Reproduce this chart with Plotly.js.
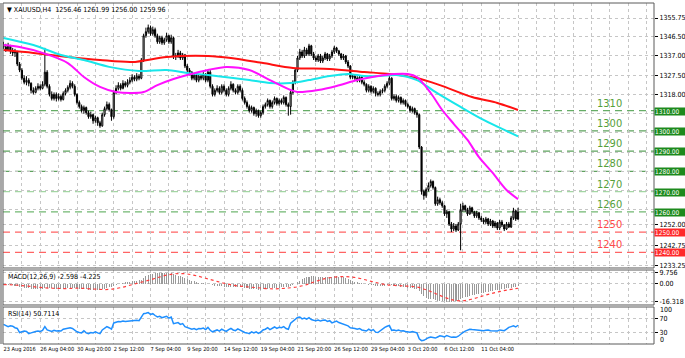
<!DOCTYPE html>
<html><head><meta charset="utf-8">
<script src="https://cdn.plot.ly/plotly-3.0.1.min.js"></script>
<style>html,body{margin:0;padding:0;background:#fff;}#chart{width:685px;height:358px;}</style>
</head><body><div id="chart"></div>
<script>
// ---------- DATA ----------
const FIRST_OPEN = 1342.5;
const CLOSE = [
1341.5,1340,1342,1339.5,1338.5,1339,1333,1330,1326,1324,
1325,1323.5,1320,1319,1321,1322,1321,1323,1329,1322,
1318,1316,1318,1316,1317,1315.5,1318.5,1320,1321.5,1323.5,
1322,1318,1314,1312,1310,1311.5,1309,1307,1308,1305,
1306.5,1304,1302.5,1308,1311,1313,1310.5,1307,1319,1321,
1322.5,1321,1323.5,1322.5,1324,1325,1326.5,1325.5,1327,1326,
1335,1347,1349,1351,1348,1350,1347,1344,1346,1343.5,
1345,1347,1344,1346,1336.5,1337,1338.5,1336,1337.5,1332,
1330,1329,1326,1327.5,1325,1327,1326,1328,1325,1329,
1322,1318,1320,1321,1319,1322,1320,1318,1321,1323,
1320,1319,1322,1320,1316,1314,1312,1310,1311.5,1308.5,
1310,1307.5,1309,1312,1313,1315,1312,1314,1316,1313.5,
1315,1314,1316.5,1313,1312,1319,1324,1330,1336,1339,
1337,1340,1338,1342,1338,1336,1335,1337,1334.5,1336,
1338,1335.5,1337,1339,1341,1339.5,1338,1336,1337,1334,
1332,1326.5,1327,1326,1325,1326.5,1324,1323,1320,1322,
1319.5,1321,1318.5,1318,1319.5,1320,1322,1323.5,1326,1316,
1317,1315,1316.5,1314,1315,1313,1312,1310,1311,1309,
1308,1292,1270,1268,1271,1273,1275,1272,1264,1266,
1264.5,1263,1259,1260,1254,1251.5,1253,1251,1254,1261,
1263,1261,1259,1262,1260,1258,1259.5,1257,1256,1255,
1256.5,1254,1255.5,1253,1254.5,1252,1255,1253.5,1251.5,1254,
1252.5,1257,1260.5,1256.46,1259.96];
const HIGH = [
1344,1343,1343.5,1342.5,1341,1340.5,1339.5,1334,1331,1327.5,
1327,1326,1324,1321.5,1322,1323.5,1323,1324.5,1341,1330,
1323,1319.5,1319,1319,1318.5,1318,1319.5,1321,1322.5,1325,
1324.5,1323,1318.5,1315,1313,1312.5,1312,1310,1309.5,1308.5,
1307.5,1307,1305,1309,1312,1314.5,1314,1311,1320,1322.5,
1324,1323.5,1325,1324.5,1325.5,1326.5,1328,1327.5,1328.5,1328,
1336,1348,1351,1352.5,1352,1351.5,1351,1348,1347,1347,
1346,1348.5,1347.5,1347.5,1346.5,1338.5,1340,1339.5,1338.5,1338,
1333,1331,1329.5,1328.5,1328,1328,1328,1329,1328.5,1330,
1330,1323,1321,1322.5,1322,1323,1323,1321,1322,1324.5,
1323.5,1321,1323,1323,1321,1317,1315,1313,1312.5,1312,
1311,1310.5,1310,1313,1314,1316,1315.5,1315,1317,1316.5,
1316,1316,1317.5,1317,1314,1320,1325,1331,1337,1340.5,
1340,1341.5,1341,1343,1342.5,1339,1337,1338,1338,1337,
1339,1338.5,1338,1340,1342,1341.5,1340,1338.5,1338,1337.5,
1335,1332.5,1328,1328,1327,1327.5,1327,1325,1323.5,1323,
1322.5,1322,1321.5,1319.5,1320.5,1321,1323,1324.5,1327,1326.5,
1318,1318,1317.5,1317,1316,1315.5,1314,1312.5,1312,1311.5,
1310,1308.5,1292.5,1271,1272,1274.5,1276,1275.5,1272.5,1267.5,
1267,1265.5,1263.5,1261,1260.5,1255,1254.5,1254,1255,1264,
1264.5,1263.5,1262,1263,1262.5,1260.5,1260.5,1260,1258,1257,
1257.5,1257,1256.5,1256,1255.5,1255,1256,1256,1254,1255,
1255,1258,1262,1261,1261.99];
const LOW = [
1340.5,1339,1339.5,1338,1337,1336.5,1332,1329,1325,1323,
1322.5,1322,1318.5,1318,1318.5,1320,1320,1320.5,1322,1321,
1317,1315,1315,1314.5,1315,1314.5,1315,1317.5,1319,1320.5,
1321,1317,1313,1311,1309,1308.5,1308,1306,1306,1303.5,
1304,1302.5,1301.5,1302,1307,1310,1309.5,1305,1306,1318,
1320,1320,1320.5,1321.5,1321.5,1323,1324,1324.5,1324.5,1325,
1325.5,1334,1346,1348,1347,1347,1346,1343,1343,1342.5,
1342.5,1344,1343,1343,1335.5,1335,1336,1335,1335,1331,
1329,1327.5,1325,1325,1324,1324,1325,1325,1324,1324,
1321,1317,1317,1319,1318,1318,1319,1317,1317,1320,
1319,1318,1318,1319,1315,1313,1311,1309,1309,1307.5,
1307,1306.5,1306.5,1308,1311,1312,1311,1311,1313,1312.5,
1312.5,1313,1313,1312,1307.5,1308,1318,1323,1329,1335,
1336,1336,1337,1337,1337,1335,1334,1334,1333.5,1333.5,
1335,1334.5,1334.5,1336,1338,1338.5,1337,1335,1335,1333,
1331,1325.5,1325.5,1325,1324,1324,1323,1322,1319,1319,
1318.5,1318.5,1317,1317,1317,1318.5,1319,1321,1322.5,1315,
1315,1314,1314,1313,1313,1312,1311,1309,1309,1308,
1306.5,1291,1268.5,1266,1267,1270,1272,1271,1263,1263,
1263.5,1262,1258,1257,1253,1250,1250.5,1250,1250.5,1241,
1260,1260,1258,1258.5,1259,1257,1257,1256,1255,1254,
1254,1253,1253,1252,1252,1251,1251,1252.5,1250.5,1251,
1252,1252,1256,1255.5,1256];

// moving averages, read at selected bars
const MAG_BARS = [0,7,17,28,35,42,49,56,61,67,74,80,89,97,107,116,125,128,137,145,154,163,170,176,180,186,191,196,202,207,213,219,224];
const MAG_VALS = [1342.4,1341.4,1338.5,1333.5,1326.6,1321.7,1319.2,1318.7,1319.2,1322.6,1325.6,1327.6,1330.1,1331.6,1330.1,1325.1,1320.2,1319.2,1320.2,1322.2,1325.1,1327.1,1328.1,1328.1,1326.6,1318.7,1310.3,1303.5,1295.5,1287,1279.2,1270.8,1266.3];
const CYAN_BARS = [0,13,25,35,46,59,71,80,89,100,107,116,125,133,142,150,157,164,171,180,189,199,209,224];
const CYAN_VALS = [1345.9,1342.4,1337.5,1335,1331.6,1329.6,1330.1,1328.6,1327.6,1326.1,1325.1,1323.6,1323.6,1325.1,1327.1,1328.1,1327.1,1327.1,1327.6,1325.1,1318.5,1311.8,1305.4,1297.3];
const RED_BARS = [0,13,28,42,56,71,89,99,113,126,142,157,168,180,190,204,215,224];
const RED_VALS = [1339.9,1338.5,1336.5,1335,1334,1336.5,1337,1336,1333.5,1331.1,1330.6,1329.1,1328.1,1326.1,1322.6,1316.7,1313.8,1310.3];

// MACD(12,26,9)
const MACD_MAIN = [
-1.0,-1.2,-1.3,-1.5,-1.7,-1.9,-2.3,-2.8,-3.3,-3.7,
-4.0,-4.2,-4.5,-4.7,-4.8,-4.8,-4.8,-4.6,-3.9,-3.9,
-4.1,-4.4,-4.5,-4.6,-4.7,-4.8,-4.6,-4.3,-4.0,-3.7,
-3.6,-3.8,-4.1,-4.5,-4.9,-5.0,-5.2,-5.4,-5.4,-5.6,
-5.6,-5.7,-5.8,-5.3,-4.6,-3.9,-3.5,-3.5,-2.3,-1.3,
-0.5,0.0,0.6,1.0,1.4,1.8,2.2,2.4,2.7,2.8,
3.6,5.2,6.5,7.7,8.4,9.0,9.3,9.4,9.6,9.756,
9.6,9.6,9.3,9.2,8.3,7.5,7.0,6.4,6.0,5.1,
4.2,3.4,2.5,1.9,1.2,0.8,0.4,0.2,-0.2,-0.2,
-0.8,-1.6,-2.0,-2.3,-2.6,-2.6,-2.8,-3.0,-3.0,-2.9,
-3.0,-3.1,-3.0,-3.1,-3.4,-3.8,-4.2,-4.6,-4.8,-5.1,
-5.2,-5.4,-5.4,-5.2,-4.9,-4.5,-4.4,-4.2,-3.9,-3.8,
-3.6,-3.5,-3.2,-3.2,-3.3,-2.6,-1.6,-0.4,1.2,2.6,
3.8,4.8,5.5,6.3,6.6,6.5,6.3,6.3,6.1,6.0,
6.1,5.9,5.9,6.0,6.4,6.5,6.3,6.1,5.6,5.0,
4.1,3.2,2.4,1.7,1.1,0.7,0.2,-0.3,-0.8,-1.1,
-1.5,-1.7,-2.0,-2.2,-2.3,-2.2,-2.0,-1.7,-1.2,-1.6,
-1.9,-2.3,-2.5,-2.8,-3.0,-3.3,-3.6,-4.0,-4.2,-4.6,
-4.9,-6.8,-9.6,-11.6,-12.8,-13.5,-13.9,-14.2,-15.0,-15.4,
-15.7,-15.9,-16.1,-16.2,-16.318,-16.2,-15.9,-15.6,-15.0,-14.0,
-13.2,-12.5,-11.9,-11.2,-10.6,-10.1,-9.5,-9.0,-8.6,-8.2,
-7.7,-7.4,-7.0,-6.6,-6.2,-5.9,-5.4,-5.0,-4.8,-4.4,
-4.2,-3.6,-2.8,-2.9,-2.598];
const SIG_BARS = [0,4,8,12,16,20,24,28,32,36,40,44,48,52,56,60,64,68,72,76,80,84,88,92,96,100,104,108,112,116,120,124,128,132,136,140,144,148,152,156,160,164,168,172,176,180,184,188,192,196,200,204,208,212,216,220,224];
const SIG_VALS = [-1.0,-1.2,-1.8,-2.6,-3.5,-4.1,-4.4,-4.5,-4.2,-4.5,-5.0,-5.4,-4.8,-3.2,-1.0,1.2,3.4,5.9,8.0,9.0,8.6,7.0,4.8,2.5,0.3,-1.5,-2.6,-3.3,-4.0,-4.7,-4.6,-4.0,-3.0,-1.0,2.0,4.4,5.8,6.2,5.8,4.2,2.0,0.0,-1.4,-1.9,-2.4,-3.2,-5.6,-8.9,-12.3,-15.0,-15.5,-14.0,-11.6,-9.2,-7.2,-5.6,-4.225];

// RSI(14)
const RSI = [
53,50,47,49.5,48,44,42,31,33,35,
34,28,30,33,34,35,34,37,47,38,
35,34,37,35,36,35,40,42,43,44,
42,37,33,31,30,36,30,28,31,30,
33,30,28,38,43,47,44,40,57,60,
61,60,62,61,62,63,64,63,64,63,
72,82,83,85,80,82,77,73,75,71,
73,75,70,73,55,56,58,53,55,47,
44,43,40,42,39,42,41,43,39,45,
37,33,36,38,35,40,37,34,39,42,
38,36,41,37,33,31,30,28,33,30,
33,29,32,38,40,44,39,43,46,42,
45,44,47,42,40,56,62,68,72,73,
68,70,67,71,66,64,63,65,62,64,
65,61,63,57,60,62,58,56,53,50,
49,44,44,42,40,42,38,37,35,40,
36,39,32,31,36,40,45,48,50,37,
38,36,38,35,36,34,33,32,34,32,
30,14,9,10,14,17,19,17,16,19,
22,21,19,23,20,18,19,18,21,27,
31,35,38,40,39,38,39,37,37,36,
37,38,36,35,36,35,38,37,36,40,
45,47,49,46,50.7114];

// axis labels
const TICK_BARS = [0,16,32,48,64,80,96,112,128,144,160,176,192,208];
const TICK_LABELS = ['23 Aug 2016','26 Aug 04:00','30 Aug 20:00','2 Sep 12:00','7 Sep 04:00','9 Sep 20:00','14 Sep 12:00','19 Sep 04:00','21 Sep 20:00','26 Sep 12:00','29 Sep 04:00','3 Oct 20:00','6 Oct 12:00','11 Oct 04:00'];
const GRID_BARS = [0,8,16,24,32,40,48,56,64,72,80,88,96,104,112,120,128,136,144,152,160,168,176,184,192,200,208,216,224,232,240,248,256,264,272,280];
const PRICE_TICKS = [1355.75,1346.5,1337,1327.5,1318,1308.5,1299,1289.5,1280,1270.5,1261,1253.6,1243.4,1233.25];
const PRICE_TICK_TEXT = ['1355.75','1346.50','1337.00','1327.50','1318.00','','','','','','','1252.00','1242.75','1233.25'];
const MACD_TICKS = [9.756,0,-16.318];
const MACD_TICK_TEXT = ['9.756','0.00','-16.318'];
const RSI_TICKS = [70,30];
const LEVELS = [1310,1300,1290,1280,1270,1260,1250,1240];
const TITLE = '▼ XAUUSD,H4  1256.46 1261.99 1256.00 1259.96';
const MACD_TITLE = 'MACD(12,26,9) -2.598 -4.225';
const RSI_TITLE = 'RSI(14) 50.7114';

// ---------- STYLE ----------
const FONT = "'Liberation Sans Narrow','DejaVu Sans Condensed','Liberation Sans',Arial,sans-serif";
const LEVEL_LINE_COLORS = ['#66ad66','#5ea35e','#5ea35e','#5ea35e','#a3d6a3','#72b872','#ff6464','#ff6464'];
const LEVEL_TEXT_COLORS = ['#55a03a','#55a03a','#55a03a','#55a03a','#55a03a','#55a03a','#ff4a4a','#ff4a4a'];
const LEVEL_BOX_COLORS = ['#1d8a1d','#1d8a1d','#1d8a1d','#1d8a1d','#1d8a1d','#1d8a1d','#ff2a2a','#ff2a2a'];
const LABEL_BAR = 264;
const GRID = '#c6c6c6';
const D_MAIN = [0.2229, 1], D_MACD = [0.1144, 0.2170], D_RSI = [0, 0.1085];

const BAR = CLOSE.map((_, i) => i);
const OPEN = [FIRST_OPEN].concat(CLOSE.slice(0, -1));

const traces = [
  {type:'candlestick', x:BAR, open:OPEN, high:HIGH, low:LOW, close:CLOSE, xaxis:'x', yaxis:'y',
   increasing:{line:{color:'#000',width:1}, fillcolor:'#ffffff'},
   decreasing:{line:{color:'#000',width:1}, fillcolor:'#000000'}, whiskerwidth:0, hoverinfo:'skip'},
  {type:'scatter', mode:'lines', x:RED_BARS, y:RED_VALS, yaxis:'y', line:{color:'#ff1010', width:2, shape:'spline', smoothing:0.8}},
  {type:'scatter', mode:'lines', x:CYAN_BARS, y:CYAN_VALS, yaxis:'y', line:{color:'#18e6ea', width:2, shape:'spline', smoothing:0.8}},
  {type:'scatter', mode:'lines', x:MAG_BARS, y:MAG_VALS, yaxis:'y', line:{color:'#ff10ff', width:2, shape:'spline', smoothing:0.8}},
  {type:'bar', x:BAR, y:MACD_MAIN, yaxis:'y2', width:0.45, marker:{color:'#9a9a9a', line:{width:0}}},
  {type:'scatter', mode:'lines', x:SIG_BARS, y:SIG_VALS, yaxis:'y2', line:{color:'#ff3c3c', width:1.2, dash:'dot', shape:'spline'}},
  {type:'scatter', mode:'lines', x:BAR, y:RSI, yaxis:'y3', line:{color:'#1e8fff', width:1.5}}
];

const yCommon = {side:'right', anchor:'x', ticks:'outside', ticklen:3, tickcolor:'#000', tickwidth:1,
  showgrid:true, gridcolor:GRID, griddash:'dot', gridwidth:1, zeroline:false, showline:false,
  tickfont:{size:7, color:'#000', family:FONT}, fixedrange:true, tickmode:'array'};

const shapes = [];
[D_MAIN, D_MACD, D_RSI].forEach(d => shapes.push({type:'rect', xref:'paper', yref:'paper', x0:0, x1:1, y0:d[0], y1:d[1],
  line:{color:'#5a5a5a', width:1}, fillcolor:'rgba(0,0,0,0)', layer:'above'}));
shapes.push({type:'rect', xref:'paper', yref:'paper', x0:-0.0046, x1:0, y0:0, y1:1, line:{width:0}, fillcolor:'#a8a8a8', layer:'above'});
LEVELS.forEach((lv, k) => shapes.push({type:'line', xref:'paper', yref:'y', x0:0, x1:1, y0:lv, y1:lv,
  line:{color:LEVEL_LINE_COLORS[k], width:1.3, dash:'7px,5px'}, layer:'below'}));

const annotations = [
  {xref:'paper', yref:'paper', x:0, y:1, xanchor:'left', yanchor:'top', xshift:2, yshift:-1, showarrow:false,
   text:TITLE, font:{size:7, color:'#000', family:FONT}},
  {xref:'paper', yref:'paper', x:0, y:D_MACD[1], xanchor:'left', yanchor:'top', xshift:3, yshift:-1, showarrow:false,
   text:MACD_TITLE, font:{size:7, color:'#000', family:FONT}},
  {xref:'paper', yref:'paper', x:0, y:D_RSI[1], xanchor:'left', yanchor:'top', xshift:3, yshift:-1, showarrow:false,
   text:RSI_TITLE, font:{size:7, color:'#000', family:FONT}},
  {xref:'paper', yref:'y3', x:1, y:100, xanchor:'left', yanchor:'middle', xshift:4, yshift:-3, showarrow:false,
   text:'100', font:{size:7, color:'#000', family:FONT}},
  {xref:'paper', yref:'y3', x:1, y:0, xanchor:'left', yanchor:'middle', xshift:4, yshift:4, showarrow:false,
   text:'0', font:{size:7, color:'#000', family:FONT}}
];
LEVELS.forEach((lv, k) => {
  annotations.push({xref:'x', yref:'y', x:LABEL_BAR, y:lv, xanchor:'center', yanchor:'bottom', yshift:-1, showarrow:false,
    text:String(lv), font:{size:11, color:LEVEL_TEXT_COLORS[k], family:FONT}});
  annotations.push({xref:'paper', yref:'y', x:1, y:lv, xanchor:'left', yanchor:'middle', xshift:0, yshift:-0.5, showarrow:false,
    text:lv.toFixed(2), bgcolor:LEVEL_BOX_COLORS[k], borderpad:0, width:31, height:7, align:'left',
    font:{size:6.5, color:'#ffffff', family:FONT}});
});

const layout = {
  width:685, height:358, margin:{l:3, r:31, t:3, b:14, pad:0},
  paper_bgcolor:'#ffffff', plot_bgcolor:'#ffffff', showlegend:false,
  font:{family:FONT, size:7, color:'#000'},
  xaxis:{domain:[0,1], range:[-0.22, 283.2], anchor:'y3', tickmode:'array', tickvals:GRID_BARS,
    ticktext:GRID_BARS.map(b => { const k = TICK_BARS.indexOf(b); return k >= 0 ? TICK_LABELS[k] : ''; }),
    ticklabelposition:'outside right', tickangle:0, automargin:false, ticks:'', showgrid:true, gridcolor:GRID, griddash:'dot', gridwidth:1,
    zeroline:false, showline:false, rangeslider:{visible:false}, tickfont:{size:5.6, color:'#000', family:FONT}, fixedrange:true},
  yaxis:Object.assign({}, yCommon, {domain:D_MAIN, range:[1232.26, 1363.16], tickvals:PRICE_TICKS, ticktext:PRICE_TICK_TEXT}),
  yaxis2:Object.assign({}, yCommon, {domain:D_MACD, range:[-19.3, 12.2], tickvals:MACD_TICKS, ticktext:MACD_TICK_TEXT}),
  yaxis3:Object.assign({}, yCommon, {domain:D_RSI, range:[0, 100], tickvals:RSI_TICKS, ticktext:RSI_TICKS.map(String)}),
  shapes:shapes, annotations:annotations, bargap:0
};

Plotly.newPlot('chart', traces, layout, {staticPlot:true, displayModeBar:false});
</script></body></html>
